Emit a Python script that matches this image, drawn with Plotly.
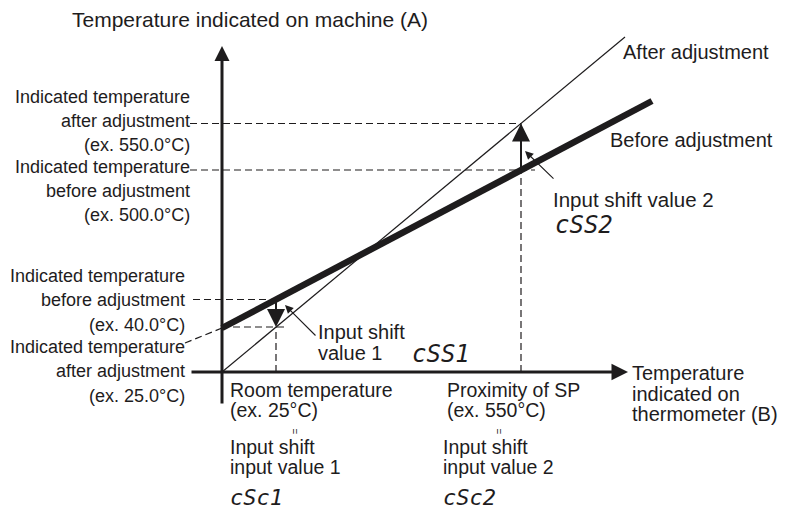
import plotly.graph_objects as go

# Schematic units: origin where the two axes cross, x to the right
# (thermometer reading B), y upward (machine reading A).
ROOM_X = 54        # room temperature, ex. 25 °C
SP_X = 299         # proximity of SP, ex. 550 °C

# characteristic lines
after_x = [0, 403]
after_y = [0, 335]
before_x = [0, 430]
before_y = [44, 271]

# indicated values at the two correction points
shift_x = [ROOM_X, SP_X]
indicated_before = [72.5, 202]
indicated_after = [45, 248.5]

INK = "#1e1c1d"
FONT = "Liberation Sans, Arial, Helvetica, sans-serif"
MONO = "DejaVu Sans Mono, monospace"
DASH = "7px,4px"

fig = go.Figure()


def seg(xs, ys, width=1.2, dash=DASH):
    fig.add_trace(go.Scatter(x=xs, y=ys, mode="lines", hoverinfo="skip",
                             line=dict(color=INK, width=width, dash=dash)))


# dashed guides at the SP point
seg([-32, shift_x[1]], [indicated_after[1]] * 2)
seg([-32, shift_x[1] + 14], [indicated_before[1]] * 2)
seg([shift_x[1]] * 2, [0, indicated_after[1]])
# dashed guides at the room temperature point
seg([-29, shift_x[0]], [indicated_before[0]] * 2)
seg([0, shift_x[0] + 12], [indicated_after[0]] * 2)
seg([shift_x[0]] * 2, [0, indicated_after[0]])
# leader to the intercept of the uncorrected line
seg([-37, 0], [29, before_y[0]])

# after / before adjustment characteristics
seg(after_x, after_y, width=1.2, dash="solid")
seg(before_x, before_y, width=6.5, dash="solid")


def arrow(x0, y0, x1, y1, width, size, head=2):
    fig.add_annotation(x=x1, y=y1, ax=x0, ay=y0, xref="x", yref="y",
                       axref="x", ayref="y", text="", showarrow=True,
                       arrowhead=head, arrowwidth=width, arrowsize=size,
                       arrowcolor=INK, standoff=0, startstandoff=0)


# axes
arrow(0, -33, 0, 326, 3, 1.0)
arrow(-32, 0, 406, 0, 3, 1.1)
# input shift arrows
arrow(shift_x[0], indicated_before[0], shift_x[0], indicated_after[0], 2, 1.8)
arrow(shift_x[1], indicated_before[1], shift_x[1], indicated_after[1], 2, 1.8)
# leaders to the shift labels
arrow(95, 35, 63, 67, 1.1, 1.5)
arrow(333, 192, 303, 221, 1.1, 1.5)


def text(x, y, s, size=20, xanchor="left", family=FONT, angle=0, align="left"):
    fig.add_annotation(x=x, y=y, xref="x", yref="y", text=s, showarrow=False,
                       xanchor=xanchor, yanchor="middle", align=align,
                       borderpad=0, borderwidth=0, textangle=angle,
                       font=dict(size=size, family=family, color=INK))


def lines(x, y, rows, step, size=20, xanchor="left", family=FONT):
    for i, row in enumerate(rows):
        text(x, y - i * step, row, size=size, xanchor=xanchor, family=family)


# vertical axis title
text(-150, 352.5, "Temperature indicated on machine (A)", size=21)

# left-hand labels
lines(-32, 275.3, ["Indicated temperature", "after adjustment", "(ex. 550.0°C)"],
      24, size=18, xanchor="right")
lines(-32, 205.3, ["Indicated temperature", "before adjustment", "(ex. 500.0°C)"],
      24, size=18, xanchor="right")
lines(-37, 96.3, ["Indicated temperature", "before adjustment", "(ex. 40.0°C)"],
      24.5, size=18, xanchor="right")
lines(-37, 25.3, ["Indicated temperature", "after adjustment", "(ex. 25.0°C)"],
      24.5, size=18, xanchor="right")

# line names
text(401, 320.5, "After adjustment")
text(388, 232, "Before adjustment")

# input shift values
text(331, 173, "Input shift value 2", size=20.5)
text(333, 147, "<i>cSS2</i>", size=24, family=MONO)
lines(96, 40, ["Input shift", "value 1"], 20.5)
text(190, 18, "<i>cSS1</i>", size=24, family=MONO)

# horizontal axis title
lines(410, -1, ["Temperature", "indicated on", "thermometer (B)"], 20.5)

# correction points on the horizontal axis
for x0, rows, eq_x, glyph in [
    (8, ["Room temperature", "(ex. 25°C)"], 67, "cSc1"),
    (225, ["Proximity of SP", "(ex. 550°C)"], 271, "cSc2"),
]:
    lines(x0, -18, rows, 20, size=19.5)
    text(eq_x, -59, "=", size=10, angle=90)
    x1 = x0 - 4 if x0 > 100 else x0
    lines(x1, -75, ["Input shift", "input value " + glyph[-1]], 20, size=19.5)
    text(x1, -125, "<i>" + glyph + "</i>", size=22, family=MONO)

fig.update_layout(
    width=795, height=511, autosize=False,
    margin=dict(l=0, r=0, t=0, b=0),
    paper_bgcolor="white", plot_bgcolor="white",
    showlegend=False,
    xaxis=dict(range=[-222, 573], visible=False, fixedrange=True),
    yaxis=dict(range=[-139, 372], visible=False, fixedrange=True),
)

fig.write_html("out.html")
